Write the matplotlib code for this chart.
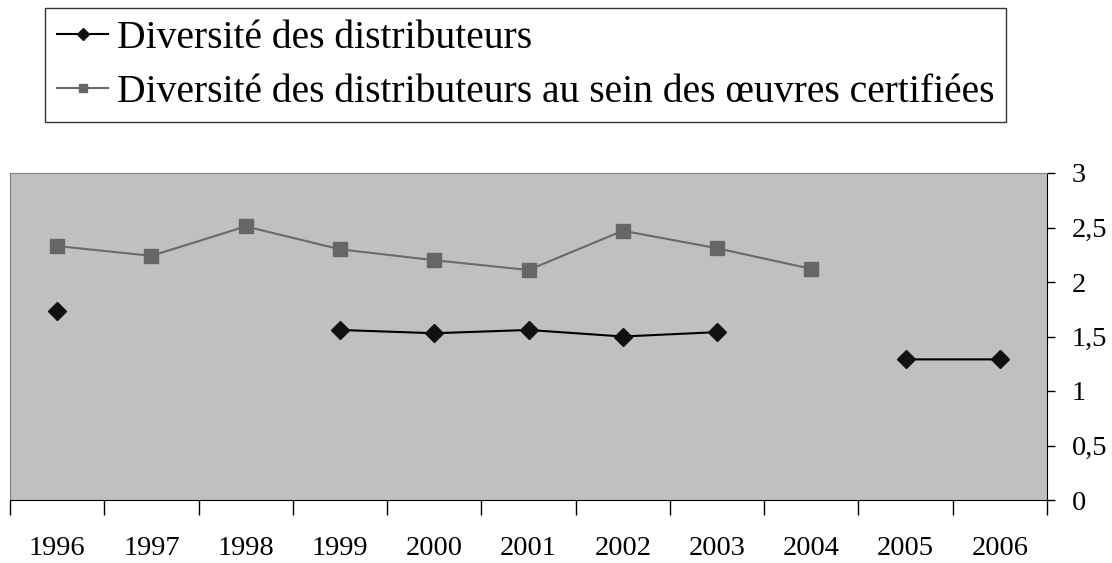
import numpy as np
import matplotlib.pyplot as plt
from matplotlib.ticker import FixedLocator, FuncFormatter

years = ["1996", "1997", "1998", "1999", "2000", "2001", "2002", "2003", "2004", "2005", "2006"]
diversite = [1.73, np.nan, np.nan, 1.56, 1.53, 1.56, 1.50, 1.54, np.nan, 1.29, 1.29]
diversite_certif = [2.33, 2.24, 2.51, 2.30, 2.20, 2.11, 2.47, 2.31, 2.12, np.nan, np.nan]

plt.rcParams['font.family'] = ['Liberation Serif', 'DejaVu Serif']

fig = plt.figure(figsize=(11.12, 5.63), dpi=100)
ax = fig.add_axes([10 / 1112, 63 / 563, 1037 / 1112, 327 / 563])
ax.set_facecolor('#c0c0c0')

x = np.arange(len(years))
ax.plot(x, diversite, color='black', lw=1.5, marker='D', ms=9.5, mfc='#111111', mec='#111111',
        label='Diversité des distributeurs')
ax.plot(x, diversite_certif, color='#6a6a6a', lw=1.5, marker='s', ms=10, mfc='#666666', mec='#666666',
        label='Diversité des distributeurs au sein des œuvres certifiées')

ax.set_xlim(-0.5, len(years) - 0.5)
ax.set_ylim(0, 3)

# category labels at centers, tick marks between categories
ax.set_xticks(x)
ax.set_xticklabels(years, fontsize=20.5)
ax.xaxis.set_minor_locator(FixedLocator(np.arange(-0.5, len(years), 1)))
ax.tick_params(axis='x', which='major', length=0, pad=26)
ax.tick_params(axis='x', which='minor', length=11, width=1, color='black')

ax.yaxis.tick_right()
ax.set_yticks([0, 0.5, 1, 1.5, 2, 2.5, 3])
ax.yaxis.set_major_formatter(FuncFormatter(lambda v, p: ('%g' % v).replace('.', ',')))
ax.tick_params(axis='y', which='major', length=6, width=1, pad=12, labelsize=20.5)

for side in ['top', 'left']:
    ax.spines[side].set_color('#808080')
for side in ['bottom', 'right']:
    ax.spines[side].set_color('black')

leg = fig.legend(loc='upper left', bbox_to_anchor=(45 / 1112, 1 - 8 / 563), borderaxespad=0,
                 fontsize=28.5, frameon=True, fancybox=False, edgecolor='black',
                 handlelength=1.3, handletextpad=0.22, borderpad=0.3, labelspacing=0.42,
                 markerscale=0.6)
leg.get_frame().set_linewidth(1)

fig.savefig('out.png', dpi=100)
